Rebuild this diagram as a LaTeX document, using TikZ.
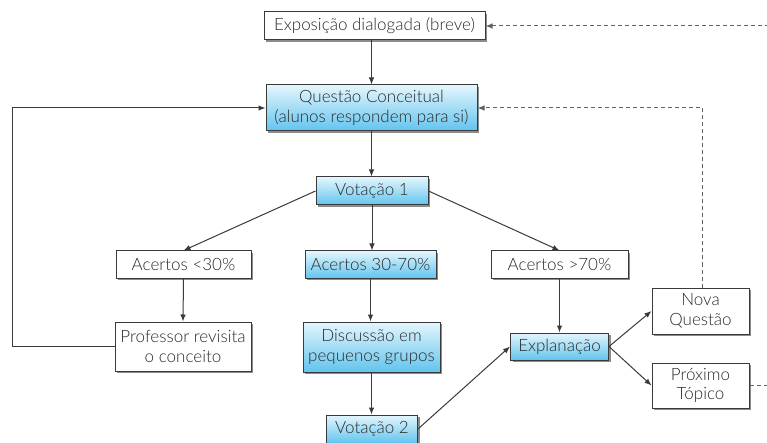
\documentclass[tikz,border=0pt]{standalone}
\usepackage{fontspec}
\setmainfont{Lato Light}
\usetikzlibrary{shadows,arrows.meta}
\definecolor{txt}{HTML}{2A2A2A}
\definecolor{edge}{HTML}{3A3A3A}
\definecolor{bluetop}{HTML}{62C4EE}
\definecolor{bluebot}{HTML}{E4F6FD}
\begin{document}
\begin{tikzpicture}[x=1pt,y=-1pt,
  box/.style={draw=edge, line width=1pt, fill=white, inner sep=0pt, align=center,
    text=txt, font=\fontsize{17}{19.5}\selectfont,
    drop shadow={shadow xshift=2pt, shadow yshift=-2pt, opacity=0.45, fill=black}},
  bluebox/.style={box, top color=bluebot, bottom color=bluetop},
  arr/.style={draw=edge, line width=1pt, -{Latex[length=7pt,width=5.5pt]}},
  dasharr/.style={draw=edge!80, line width=1pt, dash pattern=on 4pt off 3pt, -{Latex[length=7pt,width=5.5pt]}}
]
\useasboundingbox (0,0) rectangle (767,443);
\clip (0,0) rectangle (767,443);

\node[box, minimum width=221pt, minimum height=28pt] (expo) at (374.5,26) {Exposição dialogada (breve)};
\node[bluebox, minimum width=211pt, minimum height=46pt] (quest) at (371.5,108) {Questão Conceitual\\(alunos respondem para si)};
\node[bluebox, minimum width=112pt, minimum height=28pt] (vot1) at (372,191) {Votação 1};
\node[box, minimum width=135pt, minimum height=27pt] (a30) at (183.5,264.5) {Acertos <30\%};
\node[bluebox, minimum width=131pt, minimum height=27pt] (a3070) at (370.5,264.5) {Acertos 30-70\%};
\node[box, minimum width=137pt, minimum height=27pt] (a70) at (559.5,264.5) {Acertos >70\%};
\node[box, minimum width=136pt, minimum height=49pt] (prof) at (183,346.5) {Professor revisita\\o conceito};
\node[bluebox, minimum width=137pt, minimum height=50pt] (disc) at (371.5,347) {Discussão em\\pequenos grupos};
\node[bluebox, minimum width=91pt, minimum height=28pt] (vot2) at (372,429) {Votação 2};
\node[bluebox, minimum width=98pt, minimum height=27pt] (expl) at (559.5,346.5) {Explanação};
\node[box, minimum width=97pt, minimum height=46pt] (nova) at (700.5,311) {Nova\\Questão};
\node[box, minimum width=97pt, minimum height=45pt] (prox) at (700.5,385.5) {Próximo\\Tópico};

\coordinate (lcorner) at (12,346.5);
\coordinate (lcornertop) at (12,108);
\coordinate (ncorner) at (702,108);
\coordinate (rout) at (800,385.5);
\coordinate (rtop) at (800,26);

\draw[arr] (quest.north |- expo.south) -- (quest.north);
\draw[arr] (quest.south) -- (quest.south |- vot1.north);
\draw[arr] (vot1.west) -- (a30.north);
\draw[arr] (vot1.south) -- (vot1.south |- a3070.north);
\draw[arr] (vot1.east) -- (a70.north);
\draw[arr] (a30.south) -- (prof.north);
\draw[arr] (a3070.south) -- (a3070.south |- disc.north);
\draw[arr] (disc.south) -- (disc.south |- vot2.north);
\draw[arr] (a70.south) -- (expl.north);
\draw[arr] (vot2.east) -- (expl.west);
\draw[arr] (expl.east) -- (nova.west);
\draw[arr] (expl.east) -- (prox.west);
\draw[arr] (prof.west) -- (lcorner) -- (lcornertop) -- (quest.west);
\draw[dasharr] (nova.north -| ncorner) -- (ncorner) -- (quest.east);
\draw[dasharr] (prox.east) -- (rout) -- (rtop) -- (expo.east);
\end{tikzpicture}
\end{document}
